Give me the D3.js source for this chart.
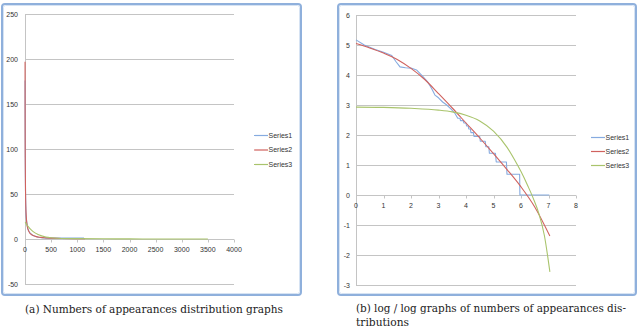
<!DOCTYPE html>
<html><head><meta charset="utf-8">
<script src="https://cdn.jsdelivr.net/npm/d3@7/dist/d3.min.js"></script>
<style>html,body{margin:0;padding:0;background:#fff;}svg{display:block;}</style>
</head><body>
<svg id="c" width="640" height="329"></svg>
<script>
// ---------- data ----------
const seriesNames = ["Series1", "Series2", "Series3"];
const seriesColors = ["#86abe0", "#d0625e", "#a9c46c"];

// (a) raw distribution
const leftXTicks = [0, 500, 1000, 1500, 2000, 2500, 3000, 3500, 4000];
const leftYTicks = [-50, 0, 50, 100, 150, 200, 250];
const leftS1X = [1, 2, 3, 5, 7, 10, 15, 20, 30, 55, 90, 150, 250, 390, 600, 1130];
const leftS1Y = [176, 130, 115, 90, 69, 52, 37, 26, 20, 11, 7, 4, 2, 1, 1, 1];
const leftS2X = [1, 2, 3, 5, 10, 20, 50, 100, 200, 300, 400, 600, 1150];
const leftS2Y = [197, 140, 110, 86, 53, 29, 12, 6, 2.9, 1.8, 1.3, 0.76, 0.25];
const leftS3X = [1, 10, 20, 55, 90, 150, 250, 400, 630, 1000, 1500, 2000, 2500, 3000, 3500];
const leftS3Y = [18.7, 18.2, 17, 14.3, 11.8, 8.4, 4.9, 2.2, 0.9, 0.4, 0.2, 0.1, 0.05, 0.03, 0.02];

// (b) log / log
const rightXTicks = [0, 1, 2, 3, 4, 5, 6, 7, 8];
const rightYTicks = [-3, -2, -1, 0, 1, 2, 3, 4, 5, 6];
const rightS1X = [0, 0.3, 0.7, 1.0, 1.3, 1.45, 1.6, 1.8, 2.0, 2.2, 2.4, 2.6, 2.75, 2.87, 3.0, 3.15, 3.3, 3.45, 3.6,
  3.7, 3.78, 3.8, 3.9, 3.92, 4.0, 4.02, 4.08, 4.1, 4.16, 4.18, 4.27, 4.29, 4.5, 4.52, 4.7, 4.72, 4.83, 4.85, 5.07, 5.1, 5.47, 5.49, 5.95, 5.96, 7.03];
const rightS1Y = [5.17, 5.0, 4.85, 4.76, 4.65, 4.45, 4.27, 4.24, 4.23, 4.17, 3.98, 3.78, 3.55, 3.33, 3.24, 3.1, 3.0, 2.87, 2.72,
  2.56, 2.56, 2.48, 2.48, 2.40, 2.40, 2.30, 2.30, 2.20, 2.20, 2.08, 2.08, 1.95, 1.95, 1.79, 1.79, 1.61, 1.61, 1.39, 1.39, 1.10, 1.10, 0.69, 0.69, 0, 0];
const rightS2X = [0, 0.5, 1, 1.5, 2, 2.5, 3, 3.5, 4, 4.5, 5, 5.5, 6, 6.5, 7.05];
const rightS2Y = [5.05, 4.9, 4.73, 4.52, 4.22, 3.85, 3.38, 2.9, 2.4, 1.9, 1.38, 0.84, 0.27, -0.4, -1.37];
const rightS3X = [0, 1, 2, 3, 3.5, 4, 4.5, 5, 5.5, 5.75, 6, 6.25, 6.45, 6.65, 6.85, 7.05];
const rightS3Y = [2.93, 2.92, 2.89, 2.83, 2.77, 2.66, 2.47, 2.13, 1.58, 1.2, 0.78, 0.3, -0.12, -0.62, -1.35, -2.56];

const captionA = "(a) Numbers of appearances distribution graphs";
const captionB1 = "(b) log / log graphs of numbers of appearances dis-";
const captionB2 = "tributions";

// ---------- drawing ----------
const svg = d3.select("#c");
const gridColor = "#c4c4c4";
const labelFont = "'Liberation Sans', Arial, sans-serif";

function zip(xs, ys) { return xs.map((x, i) => [x, ys[i]]); }

function panel(cfg) {
  const g = svg.append("g");
  // frame
  g.append("rect").attr("x", cfg.frame[0]).attr("y", cfg.frame[1])
    .attr("width", cfg.frame[2]).attr("height", cfg.frame[3])
    .attr("rx", 3).attr("fill", "#fff").attr("stroke", "#8fb0dc").attr("stroke-width", 2);
  g.append("rect").attr("x", cfg.frame[0] + 1.5).attr("y", cfg.frame[1] + 1.5)
    .attr("width", cfg.frame[2] - 3).attr("height", cfg.frame[3] - 3)
    .attr("rx", 2).attr("fill", "none").attr("stroke", "#d6e3f3").attr("stroke-width", 1);

  const x = d3.scaleLinear().domain(cfg.xDomain).range(cfg.xRange);
  const y = d3.scaleLinear().domain(cfg.yDomain).range(cfg.yRange);

  // gridlines
  g.append("g").selectAll("line").data(cfg.yTicks).join("line")
    .attr("x1", x(cfg.xDomain[0])).attr("x2", x(cfg.xDomain[1]))
    .attr("y1", d => Math.round(y(d)) + 0.5).attr("y2", d => Math.round(y(d)) + 0.5)
    .attr("stroke", gridColor).attr("stroke-width", 1);
  // vertical axis
  g.append("line").attr("x1", Math.round(x(0)) + 0.5).attr("x2", Math.round(x(0)) + 0.5)
    .attr("y1", y(cfg.yDomain[1])).attr("y2", y(cfg.yDomain[0]))
    .attr("stroke", gridColor);
  // x tick marks at y=0
  g.append("g").selectAll("line").data(cfg.xTicks).join("line")
    .attr("x1", d => Math.round(x(d)) + 0.5).attr("x2", d => Math.round(x(d)) + 0.5)
    .attr("y1", Math.round(y(0)) + 0.5).attr("y2", Math.round(y(0)) + 3.5)
    .attr("stroke", gridColor);

  // y labels
  g.append("g").selectAll("text").data(cfg.yTicks).join("text")
    .attr("x", cfg.yLabelX).attr("y", d => y(d) + 2.5)
    .attr("text-anchor", "end").attr("font-family", labelFont).attr("font-size", 7)
    .attr("fill", "#333").text(d => d);
  // x labels
  g.append("g").selectAll("text").data(cfg.xTicks).join("text")
    .attr("x", d => x(d)).attr("y", y(0) + 12.5)
    .attr("text-anchor", "middle").attr("font-family", labelFont).attr("font-size", 7)
    .attr("fill", "#333").text(d => d);

  // series
  cfg.series.forEach((s, i) => {
    const line = d3.line().x(d => x(d[0])).y(d => y(d[1])).curve(s.curve);
    g.append("path").attr("d", line(zip(s.x, s.y))).attr("fill", "none")
      .attr("stroke", seriesColors[i]).attr("stroke-width", 1.1).attr("stroke-linejoin", "round");
  });

  // legend
  const lg = g.append("g").attr("transform", `translate(${cfg.legend[0]},${cfg.legend[1]})`);
  seriesNames.forEach((n, i) => {
    const yy = i * cfg.legend[2];
    lg.append("line").attr("x1", 0).attr("x2", 14).attr("y1", yy + 0.5).attr("y2", yy + 0.5)
      .attr("stroke", seriesColors[i]).attr("stroke-width", 1.2);
    lg.append("text").attr("x", 14.5).attr("y", yy + 2.5).attr("font-family", labelFont)
      .attr("font-size", 7).attr("fill", "#333").text(n);
  });
}

panel({
  frame: [2, 4, 299, 291],
  xDomain: [0, 4000], xRange: [25, 234],
  yDomain: [-50, 250], yRange: [284, 14],
  xTicks: leftXTicks, yTicks: leftYTicks, yLabelX: 18,
  legend: [254, 135, 14.5],
  series: [
    { x: leftS1X, y: leftS1Y, curve: d3.curveLinear },
    { x: leftS2X, y: leftS2Y, curve: d3.curveMonotoneX },
    { x: leftS3X, y: leftS3Y, curve: d3.curveMonotoneX }
  ]
});

panel({
  frame: [338, 4, 298, 291],
  xDomain: [0, 8], xRange: [356, 576],
  yDomain: [-3, 6], yRange: [285, 15],
  xTicks: rightXTicks, yTicks: rightYTicks, yLabelX: 350,
  legend: [591, 137, 14],
  series: [
    { x: rightS1X, y: rightS1Y, curve: d3.curveLinear },
    { x: rightS2X, y: rightS2Y, curve: d3.curveMonotoneX },
    { x: rightS3X, y: rightS3Y, curve: d3.curveMonotoneX }
  ]
});

// captions
const capFont = "'DejaVu Serif', 'Liberation Serif', serif";
function caption(txt, x, y, len) {
  svg.append("text").attr("x", x).attr("y", y).style("font-family", capFont).attr("font-size", 11)
    .attr("textLength", len).attr("lengthAdjust", "spacingAndGlyphs").attr("fill", "#222").text(txt);
}
caption(captionA, 25, 313, 258);
caption(captionB1, 356, 312, 270);
caption(captionB2, 356, 326, 53);
</script>
</body></html>
